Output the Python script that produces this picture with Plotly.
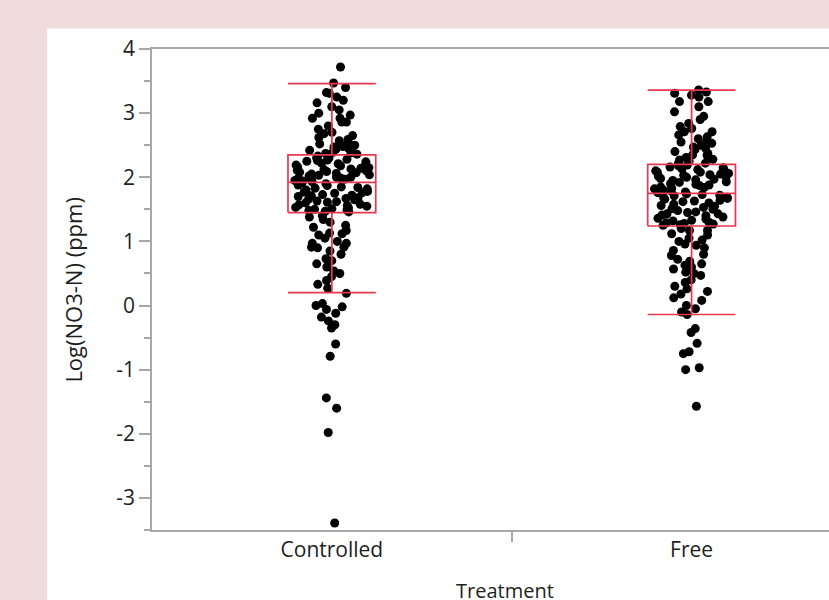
import plotly.graph_objects as go

# ---- data ----
categories = ["Controlled", "Free"]

controlled_vals = [
    3.72, 3.47, 3.31, 3.20, 3.32, 3.25, 3.16, 3.40, 3.05, 2.97, 2.92, 2.92, 2.86, 2.86,
    2.75, 2.59, 2.55, 2.57, 2.47, 2.45, 2.42, 2.40, 2.38, 2.50, 2.65, 2.70, 2.80, 2.36,
    2.44, 2.52, 3.10, 2.62, 2.37, 2.48, 3.00, 2.68, 2.39,
    2.33, 2.30, 2.27, 2.22, 2.14, 2.00, 2.00, 2.30, 2.25, 2.20, 2.18, 2.15, 2.12, 2.10,
    2.08, 2.05, 2.03, 2.02, 1.98, 1.97, 1.95, 1.94, 1.93, 2.28, 2.24, 2.19, 2.16, 2.11,
    2.07, 2.04, 1.99, 1.96, 2.21, 2.26, 2.13, 2.09, 2.06,
    1.90, 1.88, 1.85, 1.80, 1.78, 1.75, 1.72, 1.70, 1.68, 1.65, 1.62, 1.60, 1.58, 1.55,
    1.52, 1.50, 1.48, 1.46, 1.87, 1.83, 1.77, 1.73, 1.67, 1.63, 1.57, 1.53, 1.49, 1.82,
    1.76, 1.71, 1.66, 1.61, 1.56, 1.51, 1.47, 1.91, 1.84,
    1.40, 1.34, 1.25, 1.22, 1.17, 1.13, 1.12, 1.05, 0.97, 0.91, 0.90, 0.97, 0.91, 0.80,
    0.73, 0.65, 0.54, 0.50, 0.39, 0.27, 0.19, 1.30, 1.10, 0.85, 0.60, 0.45, 0.33, 1.38,
    1.00, 0.70,
    0.03, 0.00, -0.02, -0.06, -0.12, -0.18, -0.24, -0.30, -0.35, -0.60, -0.79, -1.44,
    -1.60, -1.98, -3.39,
]

free_vals = [
    3.36, 3.28, 3.18, 3.31, 3.18, 3.02, 2.84, 2.76, 2.71, 2.79, 2.71, 2.58, 2.53, 2.55,
    2.63, 2.43, 2.47, 2.31, 2.37, 2.22, 2.28, 2.22, 3.33, 3.25, 2.95, 2.90, 2.66, 2.50,
    2.40, 2.34, 2.27, 2.25, 3.10, 2.60, 2.45, 2.35,
    2.18, 2.15, 2.12, 2.11, 2.08, 2.08, 2.06, 2.03, 2.00, 1.98, 1.95, 1.93, 1.90, 1.88,
    1.85, 1.82, 1.80, 1.78, 1.77, 2.16, 2.13, 2.10, 2.05, 2.02, 1.97, 1.92, 1.87, 1.83,
    1.79, 2.19, 2.01, 1.96, 1.89, 1.84, 1.76, 2.04,
    1.74, 1.72, 1.69, 1.68, 1.64, 1.62, 1.60, 1.56, 1.51, 1.48, 1.46, 1.43, 1.43, 1.38,
    1.35, 1.32, 1.30, 1.28, 1.26, 1.25, 1.71, 1.66, 1.58, 1.53, 1.50, 1.45, 1.40, 1.36,
    1.33, 1.27, 1.73, 1.63, 1.55, 1.41, 1.29, 1.67,
    1.20, 1.17, 1.17, 1.10, 1.02, 0.96, 0.94, 0.86, 0.78, 0.69, 0.63, 0.57, 0.52, 0.47,
    0.36, 0.26, 0.08, -0.05, -0.14, 1.12, 1.05, 0.90, 0.80, 0.72, 0.60, 0.40, 0.30, 0.18,
    0.12, 0.00, -0.10, 1.00, 0.65, 0.50, 0.22,
    -0.36, -0.42, -0.59, -0.75, -0.72, -1.00, -0.97, -1.57,
]

# quantile box statistics
whisker_low = [0.20, -0.14]
q1 = [1.45, 1.24]
median = [1.92, 1.75]
q3 = [2.35, 2.20]
whisker_high = [3.46, 3.36]
grand_mean = 1.72

y_tick_vals = [-3, -2, -1, 0, 1, 2, 3, 4]
y_tick_text = ["-3", "-2", "-1", "0", "1", "2", "3", "4"]

# ---- styling ----
FONT = "Open Sans"
TXT = "#1e1e1e"
AXIS = "#a8a8a8"
RED = "#E8384F"
HALF_W = 0.122

fig = go.Figure()

# grand mean line
fig.add_hline(y=grand_mean, line=dict(color="#7f7f7f", width=1.5), layer="below")

for i, vals in enumerate([controlled_vals, free_vals]):
    fig.add_trace(go.Box(
        x0=i, y=vals, boxpoints="all", jitter=0.8, pointpos=0, width=0.27,
        line=dict(width=0, color="rgba(0,0,0,0)"), fillcolor="rgba(0,0,0,0)",
        marker=dict(color="black", size=9), showlegend=False, hoverinfo="y",
    ))

# quantile boxes (red)
for i in range(len(categories)):
    l, r = i - HALF_W, i + HALF_W
    xs = [l, r, r, l, l, None, l, r, None, i, i, None, i, i, None,
          l, r, None, l, r]
    ys = [q1[i], q1[i], q3[i], q3[i], q1[i], None, median[i], median[i], None,
          q3[i], whisker_high[i], None, q1[i], whisker_low[i], None,
          whisker_high[i], whisker_high[i], None, whisker_low[i], whisker_low[i]]
    fig.add_trace(go.Scatter(x=xs, y=ys, mode="lines", line=dict(color=RED, width=1.7),
                             showlegend=False, hoverinfo="skip"))

# white panel on pink background
fig.add_shape(type="rect", xref="paper", yref="paper", x0=-0.155, x1=1.05,
              y0=-0.3, y1=1.0427, fillcolor="white", line=dict(width=0), layer="below")

fig.update_layout(
    width=829, height=600,
    margin=dict(l=152, r=0, t=49, b=70),
    paper_bgcolor="#F0DCDC", plot_bgcolor="white",
    font=dict(family=FONT, size=21, color=TXT),
    showlegend=False,
    xaxis=dict(
        range=[-0.5, 1.382], tickmode="array", tickvals=[0, 1], ticktext=categories,
        ticks="", showgrid=False, zeroline=False,
        showline=True, linecolor=AXIS, linewidth=1.5, mirror=True,
        tickfont=dict(size=21, color=TXT),
        minor=dict(tickmode="array", tickvals=[0.5], ticks="outside", ticklen=10,
                   tickcolor=AXIS, tickwidth=1.5, showgrid=False),
    ),
    yaxis=dict(
        range=[-3.5, 4], tickmode="array", tickvals=y_tick_vals, ticktext=y_tick_text,
        ticks="outside", ticklen=11, tickcolor=AXIS, tickwidth=1.5,
        showgrid=False, zeroline=False,
        showline=True, linecolor=AXIS, linewidth=1.5,
        tickfont=dict(size=21, color=TXT),
        minor=dict(dtick=0.5, ticks="outside", ticklen=6, tickcolor=AXIS,
                   tickwidth=1.5, showgrid=False),
    ),
    annotations=[
        dict(text="Log(NO3-N) (ppm)", xref="paper", yref="paper", x=-0.118, y=0.5,
             xanchor="center", yanchor="middle", textangle=-90, showarrow=False,
             font=dict(size=22, color=TXT, family=FONT)),
        dict(text="Treatment", xref="paper", yref="paper", x=0.521, y=-0.093,
             xanchor="center", yanchor="top", showarrow=False,
             font=dict(size=20, color=TXT, family=FONT)),
    ],
)

fig.write_html("out.html")
